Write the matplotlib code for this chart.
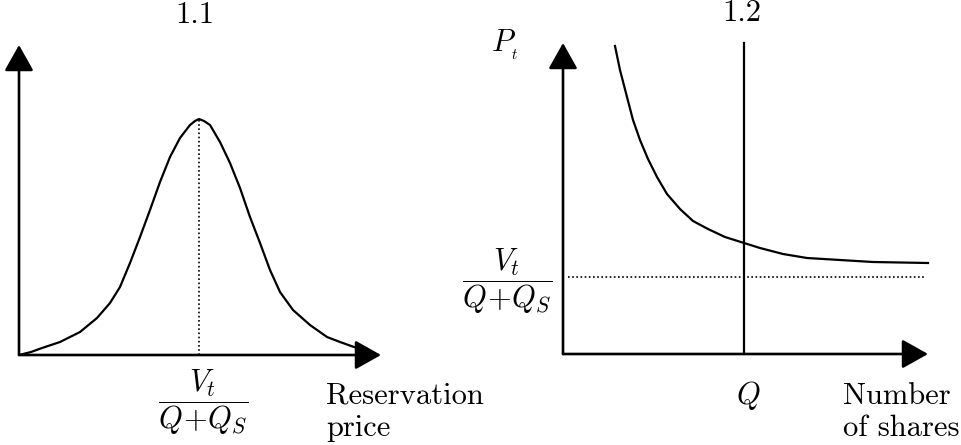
"""Two schematic panels: reservation price density and price vs number of shares."""

import matplotlib

matplotlib.use("Agg")
import matplotlib.pyplot as plt

plt.rcParams["mathtext.fontset"] = "cm"
plt.rcParams["font.family"] = "cmr10"
plt.rcParams["axes.formatter.use_mathtext"] = True

# Panel 1.1 - bell shaped density of reservation prices
price = [0, 12, 23, 41, 61, 78, 91, 101, 111, 121, 131, 141, 151, 161, 171, 176,
         180, 185, 191, 201, 211, 221, 231, 241, 251, 261, 274, 291, 308, 321,
         335, 349]
density = [0, 3, 7, 13, 23, 37, 52, 68, 92, 118, 145, 173, 198, 217, 230, 234,
           236, 234, 230, 213, 192, 167, 138, 112, 85, 63, 45, 30, 18, 13,
           8, 3]
peak_price = 180
peak_density = 236

# Panel 1.2 - price P_t against number of shares
shares = [52, 57, 64, 70, 77, 85, 94, 104, 117, 130, 145, 162, 181, 197, 220,
          244, 277, 310, 365]
price_t = [308, 284, 257, 234, 214, 195, 177, 160, 145, 133, 125, 117, 111, 106,
           100, 96, 94, 92, 91]
q_shares = 181
value_level = 77

FRAC = r"$\dfrac{V_t}{Q\!+\!Q_S}$"
FS = 22
ARROW = dict(arrowstyle="-|>,head_length=0.8,head_width=0.45", lw=1.9,
             color="black", shrinkA=0, shrinkB=0, mutation_scale=20)


def _axis_arrows(ax, x_len, y_len):
    ax.annotate("", xy=(x_len, 0), xytext=(0, 0), arrowprops=ARROW)
    ax.annotate("", xy=(0, y_len), xytext=(0, 0), arrowprops=ARROW)


fig = plt.figure(figsize=(9.62, 4.45), dpi=100)

# ---- panel 1.1
ax1 = fig.add_axes([19 / 962, 90 / 445, 370 / 962, 320 / 445])
ax1.set_xlim(0, 370)
ax1.set_ylim(0, 320)
ax1.axis("off")
_axis_arrows(ax1, 362, 310)
ax1.plot(price, density, color="black", lw=1.6, solid_joinstyle="round")
ax1.plot([peak_price, peak_price], [0, peak_density], color="black", lw=1.2,
         linestyle=(0, (1, 1.5)))
ax1.text(176, 340, "1.1", fontsize=FS, ha="center", va="center")
ax1.text(184, -47, FRAC, fontsize=FS, ha="center", va="center")
ax1.text(307, -81, "Reservation\nprice", fontsize=FS, ha="left", va="baseline",
         linespacing=1.23)

# ---- panel 1.2
ax2 = fig.add_axes([563 / 962, 91 / 445, 380 / 962, 320 / 445])
ax2.set_xlim(0, 380)
ax2.set_ylim(0, 320)
ax2.axis("off")
_axis_arrows(ax2, 365, 311)
ax2.plot(shares, price_t, color="black", lw=1.6, solid_joinstyle="round")
ax2.plot([q_shares, q_shares], [0, 311], color="black", lw=1.6)
ax2.plot([5, 361], [value_level, value_level], color="black", lw=1.2,
         linestyle=(0, (1, 1.5)))
ax2.text(179, 341, "1.2", fontsize=FS, ha="center", va="center")
ax2.text(-58, 309, r"$P_{_t}$", fontsize=FS, ha="center", va="center")
ax2.text(-56, 73, FRAC, fontsize=FS, ha="center", va="center")
ax2.text(185, -41, r"$Q$", fontsize=FS, ha="center", va="center")
ax2.text(280, -82, "Number\nof shares", fontsize=FS, ha="left", va="baseline",
         linespacing=1.23)

fig.savefig("out.png", dpi=100)
